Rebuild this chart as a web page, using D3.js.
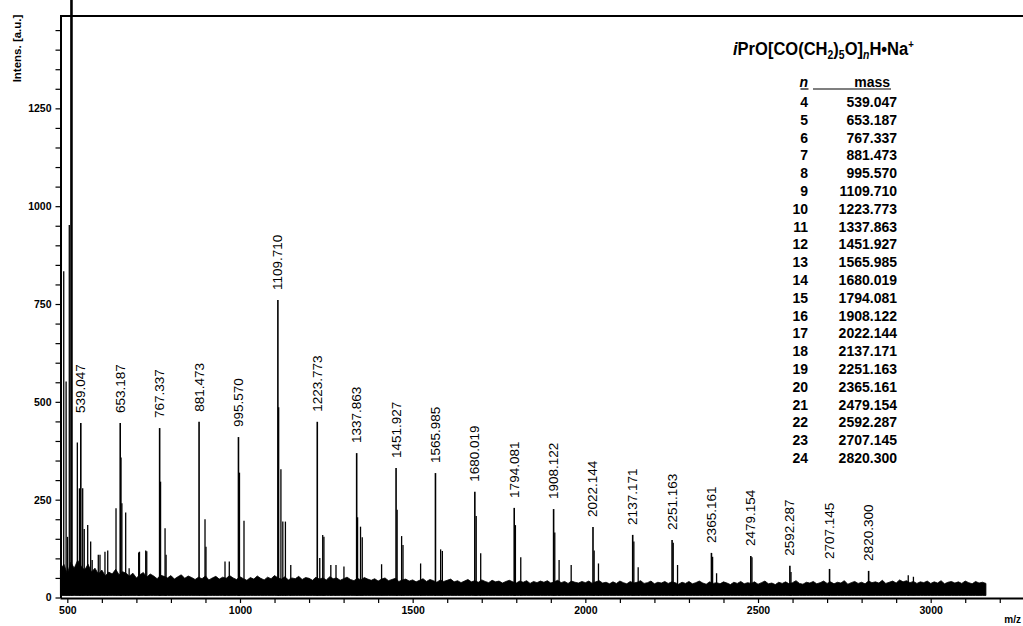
<!DOCTYPE html>
<html>
<head>
<meta charset="utf-8">
<script src="https://cdn.jsdelivr.net/npm/d3@7"></script>
<style>
  body { margin: 0; background: #fff; }
  svg { display: block; }
  text { font-family: "Liberation Sans", Arial, sans-serif; }
</style>
</head>
<body>
<svg id="chart" width="1023" height="626"></svg>
<script>
// Oligomer series iPrO[CO(CH2)5O]nH·Na+ : degree n, labelled m/z and peak intensity
const seriesN = [4, 5, 6, 7, 8, 9, 10, 11, 12, 13, 14, 15, 16, 17, 18, 19, 20, 21, 22, 23, 24];
const seriesMass = [539.047, 653.187, 767.337, 881.473, 995.570, 1109.710, 1223.773, 1337.863,
  1451.927, 1565.985, 1680.019, 1794.081, 1908.122, 2022.144, 2137.171, 2251.163, 2365.161,
  2479.154, 2592.287, 2707.145, 2820.300];
const seriesIntensity = [446, 446, 433, 449, 410, 760, 449, 369, 331, 318, 270, 229, 226, 180,
  160, 147, 114, 106, 81, 73, 68];

// Other resolved peaks (isotopes, adducts, low-mass ions)
const sideMass = [489.6, 496.5, 500.5, 505.7, 512.0, 529, 535, 544.5, 549, 559, 567.6, 572, 589.7,
  594.6, 609, 617, 641, 655.5, 658, 669, 679, 706.6, 709, 727, 730, 770, 783, 786, 898.7, 901.5,
  956.6, 969, 998.5, 1011.6, 1112, 1118.5, 1124, 1131.5, 1147, 1231, 1239.5, 1243, 1263, 1278,
  1301, 1340.5, 1349, 1354, 1410, 1455, 1468, 1472, 1523, 1581, 1586, 1684, 1697, 1797.5, 1813,
  1911.5, 1924, 1959, 2025.5, 2038, 2140.5, 2153, 2254.5, 2267, 2368.5, 2380, 2482.5, 2595.5,
  2935, 2950];
const sideIntensity = [834, 552, 155, 952, 1560, 396, 279, 279, 175, 185, 143, 96, 109,
  109, 117, 120, 228, 358, 241, 217, 75, 115, 117, 120, 118, 296, 177, 109, 200, 130,
  92, 92, 319, 196, 486, 328, 194, 194, 83, 101, 160, 155, 83, 83,
  79, 205, 181, 154, 85, 224, 157, 134, 87, 123, 119, 208, 113, 185, 103,
  166, 96, 83, 120, 87, 143, 77, 140, 83, 104, 62, 103, 65,
  57, 53];

// Baseline noise: top of the noise band in 10-unit steps from m/z 480
const noiseStart = 480;
const noiseStep = 10;
const noiseTop = [
  70, 85, 60, 90, 75, 95, 80, 70, 85, 65,
  75, 60, 70, 55, 65, 60, 72, 58, 66, 62,
  55, 62, 50, 58, 64, 52, 60, 55, 48, 57,
  54, 50, 56, 47, 53, 58, 49, 55, 51, 46,
  52, 48, 55, 45, 50, 54, 47, 52, 49, 56,
  50, 46, 53, 48, 44, 51, 47, 55, 49, 45,
  52, 48, 56, 50, 47, 53, 45, 50, 48, 54,
  46, 51, 49, 44, 52, 47, 50, 45, 53, 48,
  50, 44, 48, 52, 46, 43, 49, 45, 51, 47,
  44, 48, 42, 47, 50, 43, 46, 49, 41, 45,
  47, 42, 45, 40, 44, 48, 41, 46, 43, 39,
  45, 41, 44, 47, 40, 43, 38, 42, 46, 40,
  43, 39, 45, 41, 38, 44, 40, 42, 37, 41,
  44, 40, 37, 42, 39, 43, 36, 41, 38, 42,
  39, 43, 37, 40, 44, 38, 41, 36, 42, 39,
  37, 41, 38, 42, 36, 40, 43, 37, 39, 35,
  40, 36, 42, 38, 35, 41, 37, 39, 43, 36,
  38, 42, 35, 39, 37, 41, 36, 40, 38, 34,
  39, 36, 41, 35, 38, 42, 37, 34, 40, 36,
  38, 35, 40, 37, 33, 39, 36, 41, 35, 38,
  36, 40, 34, 38, 42, 35, 37, 33, 39, 36,
  40, 35, 38, 43, 36, 34, 39, 37, 41, 35,
  38, 42, 36, 40, 35, 39, 37, 43, 34, 38,
  41, 36, 39, 35, 42, 38, 40, 37, 44, 36,
  39, 42, 37, 45, 40, 43, 38, 41, 36, 40,
  38, 42, 36, 40, 37, 43, 35, 39, 41, 37,
  40, 36, 42, 38, 35, 41, 37, 39, 36
];
const noiseFloor = 5;

// Axis ticks
const xTickLabels = [500, 1000, 1500, 2000, 2500, 3000];
const yTickLabels = [0, 250, 500, 750, 1000, 1250];

const svg = d3.select("#chart");
const x = d3.scaleLinear().domain([478.8, 3267.3]).range([60, 1023]);
const y = d3.scaleLinear().domain([0, 1486]).range([597.5, 16]);

// Noise band
const noisePts = noiseTop.map((v, i) => [noiseStart + i * noiseStep, v]);
svg.append("path")
  .datum(noisePts)
  .attr("d", d3.area().x(d => x(d[0])).y0(y(noiseFloor)).y1(d => y(d[1])))
  .attr("fill", "#000")
  .attr("stroke", "#000")
  .attr("stroke-width", 0.8);

// Side peaks
const side = sideMass.map((m, i) => ({ m, v: sideIntensity[i] }));
svg.append("g").selectAll("line").data(side).join("line")
  .attr("x1", d => x(d.m)).attr("x2", d => x(d.m))
  .attr("y1", y(noiseFloor)).attr("y2", d => y(d.v))
  .attr("stroke", "#000")
  .attr("stroke-width", d => d.v > 1486 ? 2.6 : 1.3);

// Series peaks
const series = seriesMass.map((m, i) => ({ m, v: seriesIntensity[i], n: seriesN[i] }));
svg.append("g").selectAll("line").data(series).join("line")
  .attr("x1", d => x(d.m)).attr("x2", d => x(d.m))
  .attr("y1", y(noiseFloor)).attr("y2", d => y(d.v))
  .attr("stroke", "#000")
  .attr("stroke-width", 1.6);

// Peak labels
svg.append("g").selectAll("text").data(series).join("text")
  .attr("transform", d => `translate(${x(d.m) + 4.5},${y(d.v) - 10}) rotate(-90)`)
  .attr("font-size", "13.5px")
  .attr("fill", "#000")
  .text(d => d.m.toFixed(3));

// Axes
const yAxis = d3.axisLeft(y)
  .tickValues(d3.range(0, 1451, 50))
  .tickSize(5).tickSizeOuter(0).tickPadding(4)
  .tickFormat(d => yTickLabels.includes(d) ? d : "");
const gy = svg.append("g").attr("transform", "translate(60.5,0)").call(yAxis);

const xAxis = d3.axisBottom(x)
  .tickValues(d3.range(500, 3201, 100))
  .tickSize(5).tickSizeOuter(0).tickPadding(4)
  .tickFormat(d => xTickLabels.includes(d) ? d : "");
const gx = svg.append("g").attr("transform", "translate(0,598)").call(xAxis);

[gx, gy].forEach(g => {
  g.select(".domain").attr("stroke", "#000").attr("stroke-width", 2);
  g.selectAll(".tick line").attr("stroke", "#000").attr("stroke-width", 1.2);
  g.selectAll(".tick text")
    .attr("font-family", "'Liberation Sans', Arial, sans-serif")
    .attr("font-size", "10.5px").attr("font-weight", "bold").attr("fill", "#000");
});

// Top frame line
svg.append("line")
  .attr("x1", 60).attr("x2", 1023)
  .attr("y1", y(1486)).attr("y2", y(1486))
  .attr("stroke", "#000").attr("stroke-width", 2);

// Axis titles
svg.append("text")
  .attr("transform", "translate(21,48.5) rotate(-90)")
  .attr("text-anchor", "middle")
  .attr("font-size", "11.5px").attr("font-weight", "bold")
  .text("Intens. [a.u.]");

svg.append("text")
  .attr("x", 1021).attr("y", 623)
  .attr("text-anchor", "end")
  .attr("font-size", "10px").attr("font-weight", "bold")
  .text("m/z");

// Formula heading
const title = svg.append("text")
  .attr("transform", "translate(733,55) scale(0.87,1)")
  .attr("font-size", "19px").attr("font-weight", "bold");
title.append("tspan").attr("font-style", "italic").text("i");
title.append("tspan").text("PrO[CO(CH");
title.append("tspan").attr("font-size", "12px").attr("dy", 4).text("2");
title.append("tspan").attr("dy", -4).text(")");
title.append("tspan").attr("font-size", "12px").attr("dy", 4).text("5");
title.append("tspan").attr("dy", -4).text("O]");
title.append("tspan").attr("font-size", "12px").attr("font-style", "italic").attr("dy", 4).text("n");
title.append("tspan").attr("dy", -4).text("H\u2022Na");
title.append("tspan").attr("font-size", "11px").attr("dy", -7).text("+");

// Series table
const table = svg.append("g").attr("font-weight", "bold").attr("font-size", "14px");
table.append("text").attr("x", 808).attr("y", 87).attr("text-anchor", "end")
  .attr("font-style", "italic").text("n");
table.append("text").attr("x", 890).attr("y", 87).attr("text-anchor", "end").text("mass");
table.append("line").attr("x1", 800.5).attr("x2", 808.5).attr("y1", 89).attr("y2", 89)
  .attr("stroke", "#000").attr("stroke-width", 1.2);
table.append("line").attr("x1", 813).attr("x2", 891).attr("y1", 89).attr("y2", 89)
  .attr("stroke", "#000").attr("stroke-width", 1.2);

const rows = table.selectAll("g.row").data(series).join("g").attr("class", "row")
  .attr("transform", (d, i) => `translate(0,${107 + 17.8 * i})`);
rows.append("text").attr("x", 808).attr("text-anchor", "end").text(d => d.n);
rows.append("text").attr("x", 897).attr("text-anchor", "end").text(d => d.m.toFixed(3));
</script>
</body>
</html>
